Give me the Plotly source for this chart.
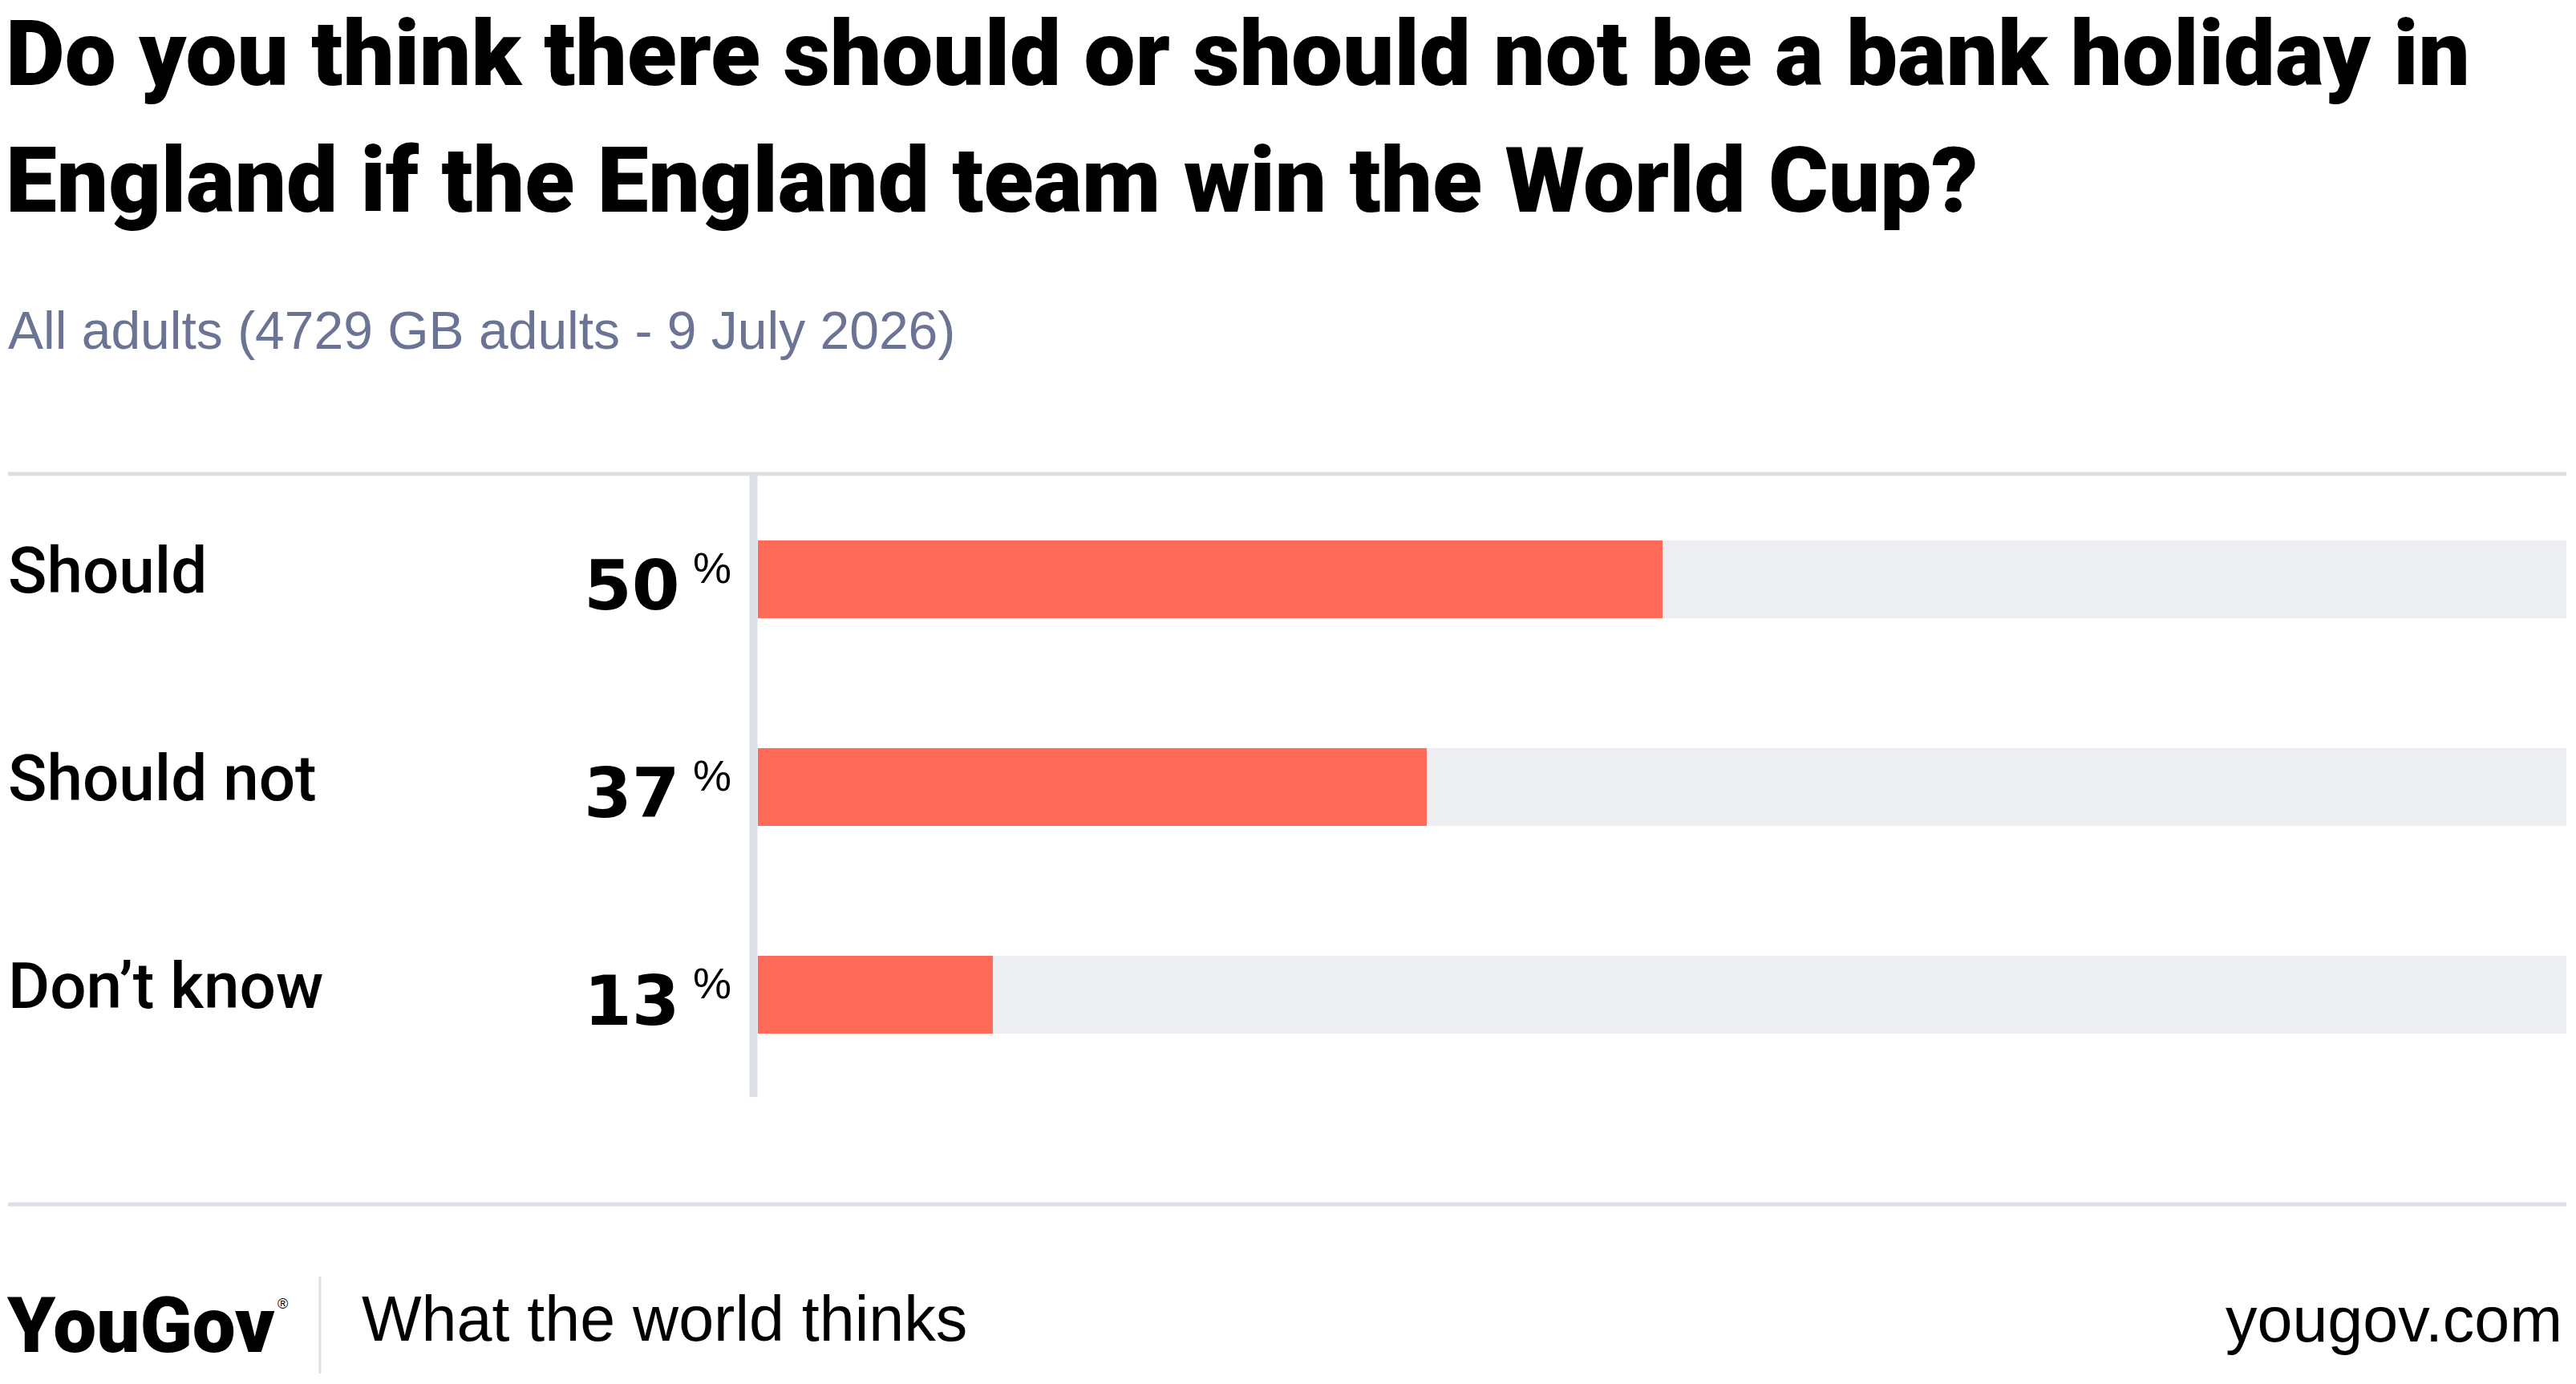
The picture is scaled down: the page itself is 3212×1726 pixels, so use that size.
import plotly.graph_objects as go

W, H = 3212, 1726

# ---- data ----
categories = ["Should", "Should not", "Don’t know"]
values = [50, 37, 13]
full_scale = [100, 100, 100]
title_lines = [
    "Do you think there should or should not be a bank holiday in",
    "England if the England team win the World Cup?",
]
subtitle = "All adults (4729 GB adults - 9 July 2026)"
footer_left = "What the world thinks"
footer_right = "yougov.com"
brand = "YouGov"

RED = "#ff6a59"
TRACK = "#edeef2"
RULE = "#dcdfe6"
SUB = "#6b7495"

def px(x):
    return x / W

def py(y):
    return 1 - y / H

# plot area in pixels
X0, X1 = 945, 3200
Y_TOP, Y_BOT = 592.5, 1369.5

fig = go.Figure()
fig.add_trace(go.Bar(
    y=categories, x=full_scale, orientation="h", width=0.3745,
    marker=dict(color=TRACK, line=dict(width=0)), hoverinfo="skip",
))
fig.add_trace(go.Bar(
    y=categories, x=values, orientation="h", width=0.3745,
    marker=dict(color=RED, line=dict(width=0)), hoverinfo="skip",
))

ann = []
SANS = "Liberation Sans, Arial, sans-serif"
HEAVY = "Roboto, Liberation Sans, sans-serif"
# title
for i, (line, base) in enumerate(zip(title_lines, [106, 264])):
    fs = 114
    ann.append(dict(text=line, x=px(6), y=py(base - 0.342 * fs), xref="paper", yref="paper",
                    xanchor="left", yanchor="middle", showarrow=False, borderpad=0,
                    font=dict(family=HEAVY, size=fs, color="#000000", weight=900)))
# subtitle
ann.append(dict(text=subtitle, x=px(8), y=py(435 - 0.35 * 66), xref="paper", yref="paper",
                xanchor="left", yanchor="middle", showarrow=False,
                font=dict(family=SANS, size=66, color=SUB)))
# category labels and values
for cat, v in zip(categories, values):
    ann.append(dict(text=cat, x=px(8), y=cat, xref="paper", yref="y", yshift=10,
                    xanchor="left", yanchor="middle", showarrow=False,
                    font=dict(family="Roboto, Liberation Sans, sans-serif", size=80,
                              color="#000000", weight=500)))
    ann.append(dict(text=str(v), x=px(850), y=cat, xref="paper", yref="y", yshift=-8,
                    xanchor="right", yanchor="middle", showarrow=False,
                    font=dict(family="DejaVu Sans, sans-serif", size=86, color="#000000", weight="bold")))
    ann.append(dict(text="%", x=px(914), y=cat, xref="paper", yref="y", yshift=14,
                    xanchor="right", yanchor="middle", showarrow=False,
                    font=dict(family=SANS, size=54, color="#000000")))
# footer
ann.append(dict(text=brand, x=px(6), y=py(1687 - 0.35 * 96), xref="paper", yref="paper",
                xanchor="left", yanchor="middle", showarrow=False,
                font=dict(family=HEAVY, size=96, color="#000000", weight=900)))
ann.append(dict(text="®", x=px(344), y=py(1626), xref="paper", yref="paper",
                xanchor="left", yanchor="middle", showarrow=False,
                font=dict(family=SANS, size=18, color="#000000")))
ann.append(dict(text=footer_left, x=px(449), y=py(1672 - 0.35 * 79), xref="paper", yref="paper",
                xanchor="left", yanchor="middle", showarrow=False,
                font=dict(family=SANS, size=79, color="#000000")))
ann.append(dict(text=footer_right, x=px(3197), y=py(1673 - 0.35 * 79), xref="paper", yref="paper",
                xanchor="right", yanchor="middle", showarrow=False,
                font=dict(family=SANS, size=79, color="#000000")))

shapes = [
    dict(type="line", xref="paper", yref="paper", x0=px(10), x1=px(3200), y0=py(591), y1=py(591),
         line=dict(color=RULE, width=5)),
    dict(type="line", xref="paper", yref="paper", x0=px(10), x1=px(3200), y0=py(1502), y1=py(1502),
         line=dict(color=RULE, width=5)),
    dict(type="line", xref="paper", yref="paper", x0=px(939.5), x1=px(939.5), y0=py(593), y1=py(1368),
         line=dict(color=RULE, width=10)),
    dict(type="line", xref="paper", yref="paper", x0=px(399), x1=px(399), y0=py(1592), y1=py(1713),
         line=dict(color=RULE, width=3)),
]

fig.update_layout(
    width=W, height=H,
    margin=dict(l=0, r=0, t=0, b=0),
    paper_bgcolor="white", plot_bgcolor="white",
    barmode="overlay", bargap=0, showlegend=False,
    xaxis=dict(domain=[px(X0), px(X1)], range=[0, 100], visible=False, fixedrange=True),
    yaxis=dict(domain=[py(Y_BOT), py(Y_TOP)], range=[2.5, -0.5], type="category",
               categoryorder="array", categoryarray=categories, visible=False, fixedrange=True),
    annotations=ann, shapes=shapes,
)

fig.write_html("out.html", config={"displayModeBar": False})
